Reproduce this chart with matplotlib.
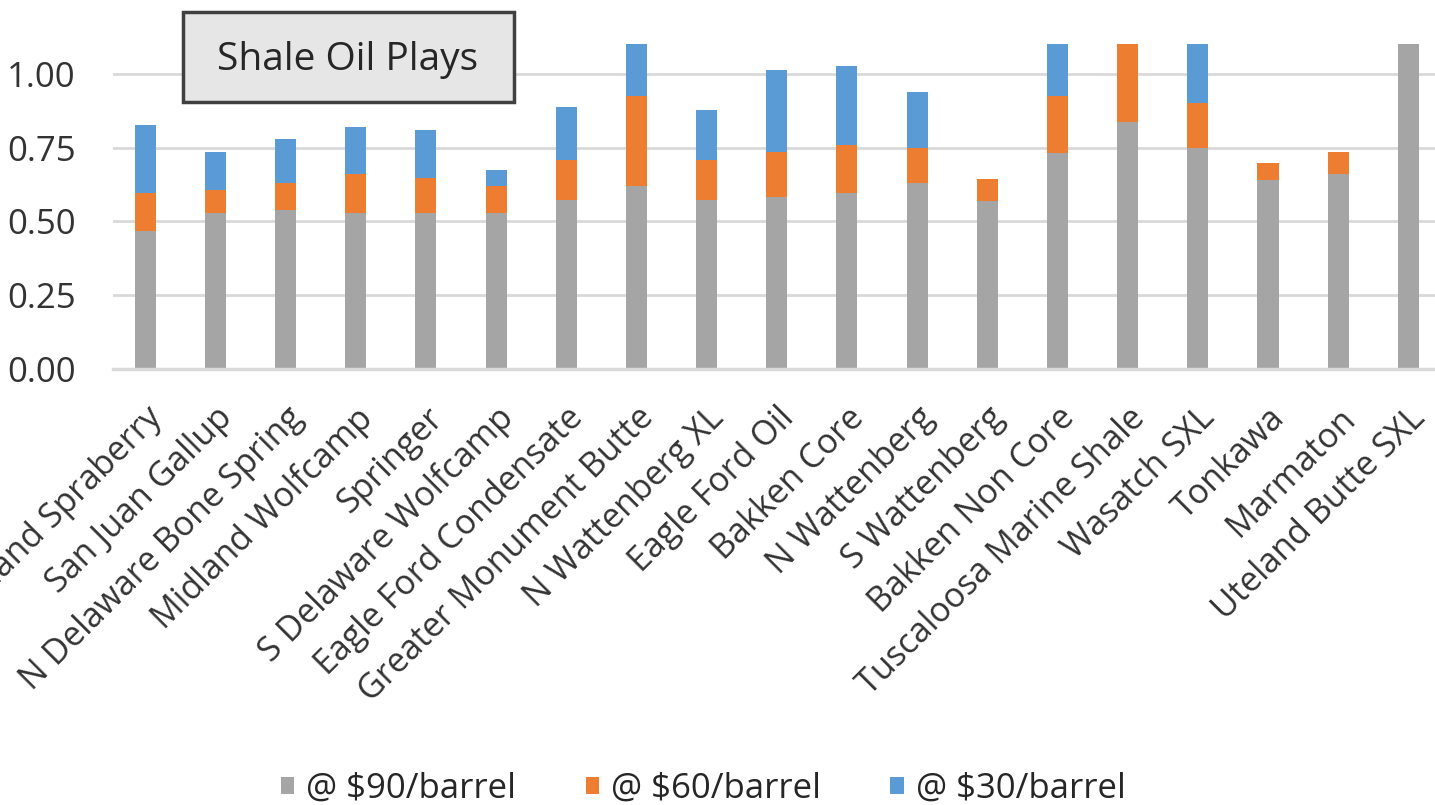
import matplotlib
matplotlib.use("Agg")
import matplotlib.pyplot as plt
import numpy as np
from matplotlib.patches import Rectangle

plt.rcParams['font.family'] = ['Open Sans', 'DejaVu Sans']

plays = [
    "Midland Spraberry", "San Juan Gallup", "N Delaware Bone Spring",
    "Midland Wolfcamp", "Springer", "S Delaware Wolfcamp",
    "Eagle Ford Condensate", "Greater Monument Butte", "N Wattenberg XL",
    "Eagle Ford Oil", "Bakken Core", "N Wattenberg", "S Wattenberg",
    "Bakken Non Core", "Tuscaloosa Marine Shale", "Wasatch SXL",
    "Tonkawa", "Marmaton", "Uteland Butte SXL",
]

# stacked segment heights for each oil price
at_90 = [0.466, 0.529, 0.539, 0.529, 0.529, 0.529, 0.573, 0.619, 0.573, 0.584,
         0.597, 0.631, 0.568, 0.732, 0.838, 0.748, 0.639, 0.660, 1.300]
at_60 = [0.131, 0.078, 0.090, 0.131, 0.117, 0.090, 0.135, 0.307, 0.135, 0.152,
         0.163, 0.117, 0.077, 0.194, 0.400, 0.153, 0.059, 0.076, 0.000]
at_30 = [0.231, 0.129, 0.150, 0.161, 0.164, 0.056, 0.181, 0.300, 0.169, 0.276,
         0.267, 0.191, 0.000, 0.300, 0.000, 0.300, 0.000, 0.000, 0.000]

series = [
    ("@ $90/barrel", at_90, "#a5a5a5"),
    ("@ $60/barrel", at_60, "#ed7d31"),
    ("@ $30/barrel", at_30, "#5b9bd5"),
]

fig = plt.figure(figsize=(14.35, 8.05), dpi=100)
ax = fig.add_axes([0.0787, 0.5416, 0.9213, 0.4034])

x = np.arange(len(plays))
bottom = np.zeros(len(plays))
for label, vals, color in series:
    vals = np.array(vals)
    ax.bar(x, vals, width=0.3, bottom=bottom, color=color, label=label, zorder=2)
    bottom += vals

ax.set_ylim(0, 1.1)
ax.set_xlim(-0.46, 18.38)
ax.set_yticks([0, 0.25, 0.5, 0.75, 1.0])
ax.set_yticklabels(["0.00", "0.25", "0.50", "0.75", "1.00"])
ax.yaxis.grid(True, color="#d9d9d9", linewidth=2, zorder=0)
ax.set_axisbelow(True)
for side in ["top", "right", "left"]:
    ax.spines[side].set_visible(False)
ax.spines["bottom"].set_color("#d9d9d9")
ax.spines["bottom"].set_linewidth(2.5)

ax.tick_params(axis="y", length=0, pad=27, labelsize=25, labelcolor="#333333")
ax.tick_params(axis="x", length=0, pad=23, labelsize=24.5, labelcolor="#333333")
ax.set_xticks(x)
ax.set_xticklabels(plays, rotation=45, ha="right", rotation_mode="anchor")

# title box
fig.patches.append(Rectangle((0.1275, 0.8733), 0.2307, 0.1118, transform=fig.transFigure,
                             facecolor="#e6e6e6", edgecolor="#404040", linewidth=2.5, zorder=5))
fig.text(0.2425, 0.926, "Shale Oil Plays", ha="center", va="center",
         fontsize=28, color="#262626", zorder=6)

fig.legend(loc="lower center", bbox_to_anchor=(0.49, -0.04), ncol=3, frameon=False,
           fontsize=25, handlelength=0.38, handleheight=0.38, handletextpad=0.35,
           columnspacing=2.0, labelcolor="#262626")

fig.savefig("out.png", dpi=100)
